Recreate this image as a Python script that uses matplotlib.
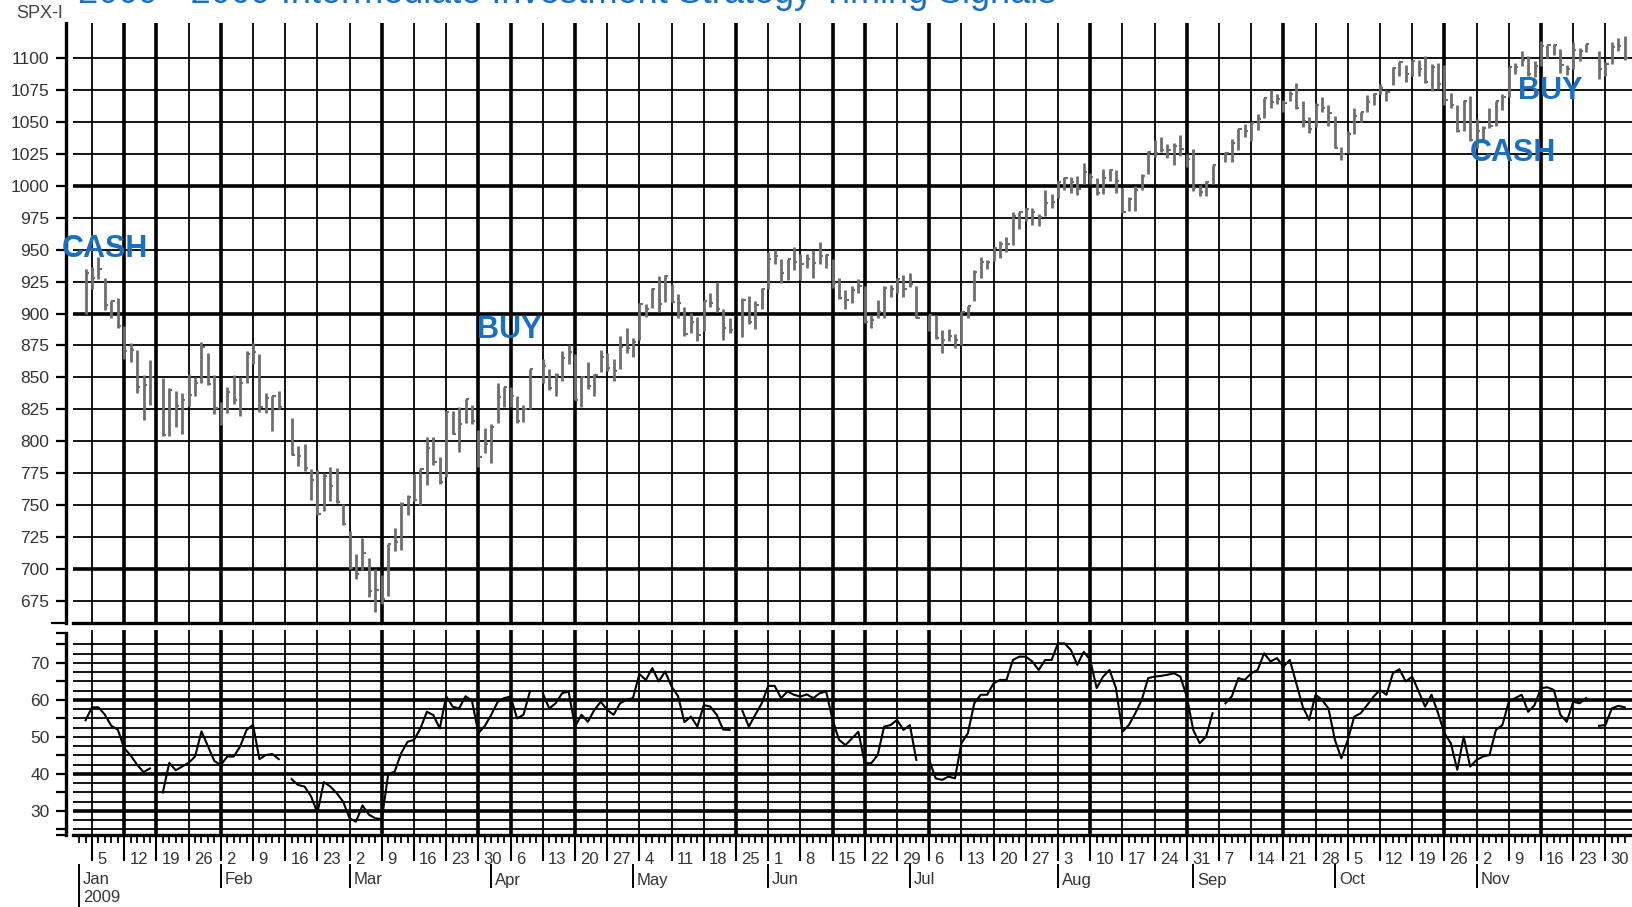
import numpy as np
import pandas as pd
import matplotlib
matplotlib.use('Agg')
import matplotlib.pyplot as plt

plt.rcParams['font.family'] = ['Liberation Sans', 'DejaVu Sans']

# market holidays (empty slots on the weekday axis)
holidays = ['2009-01-19', '2009-02-16', '2009-04-10', '2009-05-25',
            '2009-07-03', '2009-09-07', '2009-11-26']

# daily S&P 500 bars, Jan 2 - Dec 3 2009 (one line per month)
high = [
    934.7, 936.6, 943.9, 927.5, 910.0, 911.9, 890.4, 877.0, 871.8, 851.6, 864.0, 849.6, 841.7, 839.7, 838.2, 852.5, 850.5, 877.9, 868.9, 851.7,
    830.8, 842.6, 851.9, 850.6, 870.8, 877.0, 868.1, 838.2, 835.2, 839.4, 818.6, 796.2, 797.6, 778.7, 777.9, 775.5, 780.1, 779.4, 751.3,
    729.6, 711.7, 724.1, 708.3, 700.0, 695.3, 719.6, 731.9, 752.6, 758.3, 774.5, 778.1, 803.0, 803.2, 788.1, 823.4, 823.9, 826.8, 833.0, 828.7, 809.1, 810.5,
    813.6, 845.6, 842.6, 842.5, 835.5, 828.4, 856.9, 864.3, 856.6, 853.1, 870.4, 875.6, 868.3, 850.1, 861.8, 852.9, 871.8, 868.8, 864.5, 882.1, 888.7,
    880.5, 907.9, 907.7, 920.3, 929.6, 930.2, 923.0, 915.6, 905.4, 900.4, 897.0, 910.0, 916.4, 924.6, 903.5, 896.3, 911.8, 913.8, 909.5, 920.0,
    947.8, 949.4, 942.5, 942.5, 951.7, 946.3, 946.3, 949.8, 956.2, 946.3, 942.5, 928.0, 918.4, 921.9, 927.1, 921.4, 898.7, 910.9, 921.4, 922.0, 928.0, 930.0,
    931.9, 921.2, 898.7, 898.6, 886.8, 887.9, 883.6, 901.1, 905.8, 934.0, 944.0, 941.9, 951.6, 956.5, 959.8, 979.4, 979.8, 982.5, 982.4, 977.8, 996.7, 993.2,
    1003.6, 1007.1, 1006.6, 1008.0, 1018.0, 1010.1, 1005.8, 1012.8, 1013.1, 1012.6, 998.6, 991.2, 999.6, 1008.9, 1027.6, 1035.8, 1037.8, 1032.5, 1033.3, 1039.5, 1025.2,
    1028.5, 1000.3, 1003.4, 1016.5, 1026.1, 1036.3, 1044.1, 1048.2, 1049.7, 1056.0, 1068.8, 1074.8, 1071.5, 1067.3, 1073.8, 1080.2, 1066.3, 1053.5, 1065.1, 1069.6, 1063.4,
    1054.6, 1030.6, 1042.6, 1060.6, 1058.0, 1070.7, 1073.0, 1079.5, 1075.3, 1093.2, 1096.6, 1094.7, 1098.6, 1098.1, 1101.4, 1095.2, 1095.8, 1094.8, 1072.5, 1063.3, 1066.8, 1070.2,
    1052.2, 1046.4, 1061.0, 1066.7, 1071.5, 1093.2, 1096.4, 1105.4, 1101.8, 1097.6, 1113.7, 1110.3, 1111.1, 1106.8, 1094.9, 1112.4, 1107.6, 1111.1, 1105.1, 1097.2,
    1112.3, 1115.6, 1117.3,
]
low = [
    899.4, 919.5, 927.3, 902.4, 896.8, 888.3, 864.3, 862.0, 838.1, 817.0, 828.3, 804.5, 804.3, 811.3, 806.1, 827.7, 835.4, 845.7, 844.2, 821.7,
    812.9, 822.0, 829.2, 819.9, 845.4, 860.6, 823.0, 822.1, 808.1, 825.2, 789.2, 780.4, 777.0, 754.3, 742.4, 745.4, 752.9, 751.8, 734.5,
    699.7, 692.3, 699.0, 677.9, 666.8, 672.9, 679.3, 713.9, 714.8, 742.5, 753.4, 749.9, 765.6, 781.8, 766.2, 772.3, 805.7, 791.4, 814.5, 813.4, 779.8, 790.9,
    783.3, 814.5, 826.8, 826.7, 814.5, 814.8, 825.2, 845.4, 840.3, 835.6, 847.0, 860.9, 832.4, 826.8, 840.6, 835.6, 853.9, 854.7, 847.1, 856.9, 868.9,
    866.1, 879.2, 897.3, 904.0, 901.4, 909.0, 908.7, 896.5, 882.8, 885.1, 878.9, 886.1, 905.2, 901.4, 879.6, 884.8, 881.5, 891.9, 887.6, 903.6,
    919.1, 938.5, 923.9, 926.4, 934.1, 926.4, 935.7, 928.0, 939.0, 935.7, 919.7, 911.6, 903.8, 907.9, 915.8, 892.4, 888.9, 896.3, 896.3, 913.0, 916.2, 912.9,
    920.8, 896.4, 886.4, 879.9, 869.3, 878.5, 872.8, 875.3, 896.5, 910.2, 927.5, 934.5, 941.0, 943.2, 947.8, 953.3, 966.0, 972.3, 969.4, 968.7, 976.0, 982.9,
    990.2, 996.7, 994.3, 992.5, 1001.0, 1001.0, 992.4, 993.4, 1003.8, 994.6, 978.5, 980.6, 980.6, 996.4, 1009.1, 1022.5, 1026.2, 1021.6, 1016.2, 1023.1, 1014.6,
    996.3, 992.0, 992.3, 1001.7, 1018.7, 1018.9, 1028.0, 1038.4, 1035.0, 1043.4, 1052.9, 1061.2, 1064.3, 1057.5, 1066.4, 1060.4, 1045.9, 1041.2, 1045.9, 1057.8, 1046.5,
    1029.5, 1020.0, 1025.9, 1040.5, 1050.1, 1057.6, 1062.9, 1071.6, 1066.7, 1078.7, 1085.6, 1081.5, 1086.2, 1086.2, 1080.8, 1074.3, 1075.5, 1063.2, 1060.6, 1042.2, 1042.6, 1035.2,
    1029.4, 1033.9, 1045.2, 1046.7, 1059.3, 1069.3, 1087.4, 1093.8, 1085.7, 1085.3, 1093.5, 1100.0, 1102.7, 1088.4, 1086.4, 1091.4, 1097.6, 1104.8, 1083.7, 1086.3,
    1095.6, 1105.3, 1098.7,
]
close = [
    931.8, 927.5, 934.7, 906.7, 909.7, 890.4, 870.3, 871.8, 842.6, 843.7, 850.1, 805.2, 840.2, 827.5, 832.0, 836.6, 845.7, 874.1, 845.1, 825.9,
    825.4, 838.5, 832.2, 845.9, 868.6, 869.9, 827.2, 833.7, 835.2, 826.8, 789.2, 788.4, 778.9, 770.1, 743.3, 773.1, 764.9, 752.8, 735.1,
    700.8, 696.3, 712.9, 682.6, 683.4, 676.5, 719.6, 721.4, 750.7, 756.6, 753.9, 778.1, 794.4, 784.0, 768.5, 822.9, 806.1, 813.9, 832.9, 815.9, 787.5, 797.9,
    811.1, 834.4, 842.5, 835.5, 815.6, 825.2, 856.6, 858.7, 841.5, 852.1, 865.3, 869.6, 832.4, 850.1, 843.6, 851.9, 866.2, 857.5, 855.2, 873.6, 872.8,
    877.5, 907.2, 903.8, 919.5, 907.4, 929.2, 909.2, 908.4, 883.9, 893.1, 882.9, 909.7, 908.1, 903.5, 888.3, 887.0, 910.3, 893.1, 906.8, 919.1,
    942.9, 944.7, 931.8, 942.5, 940.1, 939.1, 942.4, 939.2, 944.9, 946.2, 923.7, 912.0, 910.7, 918.4, 921.2, 893.0, 895.1, 900.9, 920.3, 918.9, 927.2, 919.3,
    923.3, 896.4, 898.7, 881.0, 879.6, 882.7, 879.1, 901.1, 905.8, 932.7, 940.7, 940.4, 951.1, 954.6, 954.1, 976.3, 979.3, 982.2, 979.6, 975.2, 986.8, 987.5,
    1002.6, 1005.7, 1002.7, 997.1, 1010.5, 1007.1, 994.4, 1005.8, 1012.7, 1004.1, 979.7, 989.7, 996.5, 1007.4, 1026.1, 1025.6, 1028.0, 1028.1, 1031.0, 1028.9, 1020.6,
    998.0, 994.8, 1003.2, 1016.4, 1025.4, 1033.4, 1044.1, 1042.7, 1049.3, 1052.6, 1068.8, 1065.5, 1068.3, 1064.7, 1071.7, 1060.9, 1050.8, 1044.4, 1063.0, 1060.6, 1057.1,
    1029.9, 1025.2, 1040.5, 1054.7, 1057.6, 1065.5, 1071.5, 1076.2, 1073.2, 1092.0, 1096.6, 1087.7, 1097.9, 1091.1, 1081.4, 1092.9, 1079.6, 1067.0, 1063.4, 1042.6, 1066.1, 1036.2,
    1042.9, 1045.4, 1046.5, 1066.6, 1069.3, 1093.1, 1093.0, 1098.5, 1087.2, 1093.5, 1109.3, 1110.3, 1109.8, 1094.9, 1091.4, 1106.2, 1105.7, 1110.6, 1091.5, 1095.6,
    1108.9, 1109.2, 1099.9,
]
# lower oscillator panel
osc = [
    54.5, 58, 58, 56, 53, 52, 47, 45, 42.5, 40.5, 41.5, 35, 43, 41, 42, 43, 44.7, 51.5, 47.5, 43.5,
    42.4, 44.7, 44.7, 47.4, 51.9, 53.3, 44, 45.1, 45.4, 44, 38.6, 37, 36.6, 34, 29.5, 37.8, 36.6, 34.8, 32.5,
    28, 27.1, 31.5, 29, 28, 27.8, 40, 40.6, 45.6, 48.7, 49.2, 52.3, 56.8, 55.9, 52.3, 61, 58.2, 57.7, 61, 59.8, 51, 53,
    56, 59.5, 60.5, 60.9, 55, 56, 62.3, 61.8, 57.7, 59.1, 61.8, 62.3, 52.8, 56, 54.1, 57.3, 59.5, 57.3, 56, 59.1, 60,
    60.5, 67, 65.4, 68.6, 65, 67.7, 63.6, 61, 54, 55.5, 52.8, 58.6, 58.2, 56, 52, 51.9, 57, 52.8, 56, 59.1,
    63.8, 63.8, 60.5, 62.3, 61.4, 60.9, 61.5, 60.5, 61.8, 62.3, 54.6, 49.2, 47.8, 49.6, 51.4, 42.9, 42.9, 45.1, 52.8, 53.2, 54.6, 51.9,
    53.2, 43.8, 43.8, 38.8, 38.4, 39.3, 38.8, 48.3, 51, 59.1, 61.4, 61.4, 64.5, 65.4, 65.4, 70.8, 71.7, 71.7, 70.4, 68.1, 70.8, 70.8,
    75.3, 75.3, 73.5, 69.5, 73, 70.8, 63.2, 66.3, 68.1, 63.2, 51.4, 53.2, 56.4, 60, 65.9, 66.3, 66.5, 66.8, 67.2, 66.3, 60.9,
    51.9, 48.3, 50.1, 56.4, 59.1, 61, 65.9, 65.4, 67.2, 68.1, 72.6, 70.4, 71.3, 69, 70.8, 64.5, 58.2, 54.6, 61.4, 60, 57.7,
    49.2, 44.2, 49.2, 55.5, 56.4, 58.6, 60.9, 62.7, 61.4, 67.2, 68.3, 65, 66.3, 62.3, 58.2, 61.4, 56.5, 51, 48.3, 41.1, 50.1, 42,
    43.8, 44.7, 45.1, 51.9, 53.2, 59.5, 60.5, 61.4, 56.8, 58.6, 63.2, 63.4, 62.7, 56, 54.1, 59.5, 59.1, 60.5, 53, 53.2,
    57.7, 58.4, 58,
]

# heavy weekly lines
heavy_weeks = ['2009-01-12', '2009-01-19', '2009-02-02', '2009-03-09', '2009-03-30',
               '2009-04-06', '2009-04-20', '2009-05-25', '2009-06-15', '2009-06-22',
               '2009-07-06', '2009-08-10', '2009-08-31', '2009-09-21', '2009-10-26',
               '2009-11-16']
months = ['Jan', 'Feb', 'Mar', 'Apr', 'May', 'Jun', 'Jul', 'Aug', 'Sep', 'Oct', 'Nov']
month_starts = ['2009-01-01', '2009-02-02', '2009-03-02', '2009-04-01', '2009-05-01',
                '2009-06-01', '2009-07-01', '2009-08-03', '2009-09-01', '2009-10-01',
                '2009-11-02']

# signal labels: text, weekday slot (0 = Jan 5), price level
signal_text = ['CASH', 'BUY', 'CASH', 'BUY']
signal_slot = [-4.7, 59.8, 214.0, 221.4]
signal_price = [950.5, 887.5, 1025.5, 1074.5]

title = '2009 - 2009 Intermediate Investment Strategy Timing Signals'

BLUE = '#1a70c0'
TXT = '#333333'


def pos(d):
    # weekday slot relative to Mon Jan 5 2009
    d = np.array(pd.to_datetime(d).values.astype('datetime64[D]'))
    return np.busday_count(np.datetime64('2009-01-05'), d)


all_days = pd.bdate_range('2009-01-02', '2009-12-03')
days = all_days[~all_days.isin(pd.to_datetime(holidays))]
n = min(len(days), len(high), len(low), len(close), len(osc))
df = pd.DataFrame({'high': high[:n], 'low': low[:n], 'close': close[:n], 'osc': osc[:n]},
                  index=days[:n])
full = df.reindex(all_days)
xs = pos(full.index)
xb = pos(df.index)

W, H = 1633, 907
fig = plt.figure(figsize=(W / 100, H / 100), dpi=100)
x0 = 73
ax1 = fig.add_axes([x0 / W, 1 - 623 / H, (W - x0) / W, 600 / H])
ax2 = fig.add_axes([x0 / W, 1 - 835 / H, (W - x0) / W, 205 / H])

xlim = ((x0 - 92) / 6.44, (W - 92) / 6.44)
weeks = pd.date_range('2009-01-05', '2009-11-30', freq='W-MON')
heavy = set(pd.to_datetime(heavy_weeks))

for ax in (ax1, ax2):
    ax.set_xlim(*xlim)
    for w in weeks:
        ax.axvline(pos([w])[0], color='black', lw=2.6 if w in heavy else 1.3, zorder=1)
    for s in ('top', 'right'):
        ax.spines[s].set_visible(False)
    ax.spines['left'].set_position(('outward', 5))
    ax.spines['left'].set_linewidth(2.4)
    ax.spines['bottom'].set_linewidth(2.4)
    ax.tick_params(axis='y', which='both', length=7, width=1.6, pad=5,
                   labelsize=12.5, labelcolor=TXT)

# price panel
ax1.set_ylim(657.8, 1127.4)
for lvl in range(675, 1101, 25):
    ax1.axhline(lvl, color='black', lw=2.6 if lvl in (700, 900, 1000) else 1.3, zorder=1)
ax1.set_yticks(range(675, 1101, 25))
ax1.set_yticks([657.8], minor=True)
ax1.tick_params(axis='y', which='minor', length=11)
ax1.tick_params(axis='x', which='both', length=0, labelbottom=False)
ax1.vlines(xb, df['low'], df['high'], color='#6e6e6e', lw=2.0, zorder=3)
ax1.hlines(df['close'], xb, xb + 0.5, color='#6e6e6e', lw=1.5, zorder=3)

for label, sx, sy in zip(signal_text, signal_slot, signal_price):
    ax1.text(sx, sy, label, color=BLUE, fontsize=22, fontweight='bold',
             ha='left', va='center', zorder=5, clip_on=False)

# oscillator panel
ax2.set_ylim(23.5, 78.9)
ax2.spines['left'].set_bounds(23.5, 78.1)
for lvl in np.arange(25, 76, 2.5):
    ax2.axhline(lvl, color='black', lw=2.6 if lvl in (30, 40, 60) else 1.3, zorder=1)
ax2.set_yticks([30, 40, 50, 60, 70])
ax2.set_yticks([23.5, 25, 35, 45, 55, 65, 75, 78.1], minor=True)
ax2.plot(xs, full['osc'], color='black', lw=1.5, zorder=3)

# weekday axis
ax2.set_xticks(pos(weeks))
ax2.set_xticks(pos(all_days.union(pd.to_datetime(['2009-01-01']))), minor=True)
ax2.tick_params(axis='x', which='major', length=19, width=1.5, direction='out', labelbottom=False)
ax2.tick_params(axis='x', which='minor', length=6, width=1.3, direction='out')
tr = ax2.get_xaxis_transform()
for w in weeks:
    ax2.text(pos([w])[0] + 0.8, -24 / 205, str(w.day), transform=tr, ha='left', va='center',
             fontsize=12, color=TXT)
for m, d in zip(months, month_starts):
    p = pos([d])[0]
    bottom = 906 if m == 'Jan' else 887
    ax2.plot([p, p], [-30 / 205, -(bottom - 835) / 205], transform=tr, color='black',
             lw=1.4, clip_on=False)
    ax2.text(p + 0.6, -45 / 205, m, transform=tr, ha='left', va='center',
             fontsize=12, color=TXT)
ax2.text(pos(['2009-01-01'])[0] + 0.6, -63 / 205, '2009', transform=tr, ha='left',
         va='center', fontsize=12, color=TXT)

fig.text(78 / W, 1 - 3 / H, title, color=BLUE, fontsize=26, ha='left', va='baseline')
fig.text(16 / W, 1 - 14 / H, 'SPX-I', color='#444444', fontsize=13, ha='left', va='center')

fig.savefig('out.png', dpi=100)
